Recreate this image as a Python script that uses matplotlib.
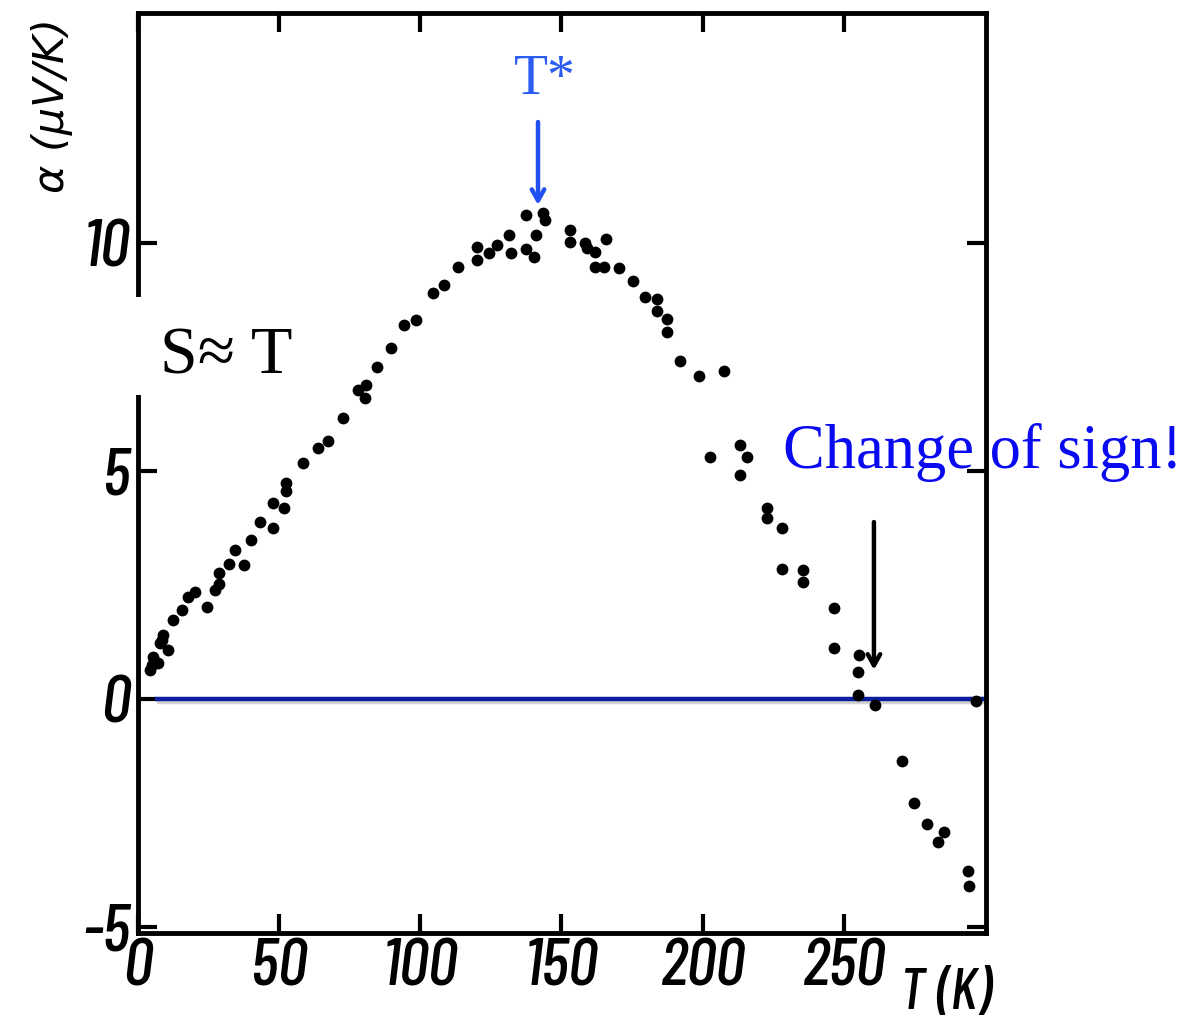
import matplotlib
matplotlib.use("Agg")
import matplotlib.pyplot as plt
import matplotlib.patheffects as pe
from matplotlib.patches import Rectangle

# Thermopower alpha (uV/K) versus temperature T (K)
temperature = [4.3, 5.0, 5.4, 7.2, 7.8, 8.5, 9.0, 10.7, 12.5, 15.5, 17.8, 20.2, 24.6,
               27.3, 28.8, 28.8, 32.3, 34.4, 37.5, 39.9, 43.2, 47.7, 47.9, 51.7,
               52.4, 52.4, 58.3, 63.9, 67.2, 72.7, 77.8, 80.4, 80.8, 84.5, 89.5,
               94.2, 98.4, 104.6, 108.4, 113.2, 120.0, 120.0, 124.3, 127.0, 131.4,
               132.1, 137.4, 137.4, 140.3, 140.9, 143.6, 144.2, 153.0, 153.0, 158.3,
               158.9, 161.9, 165.8, 161.9, 165.1, 170.5, 175.2, 179.6, 183.7, 183.7,
               187.3, 187.3, 192.0, 198.8, 207.6, 202.5, 213.2, 215.6, 213.2, 222.9,
               222.9, 228.2, 228.3, 235.5, 235.5, 246.7, 246.7, 255.5, 255.2, 255.2,
               261.1, 270.5, 274.9, 279.4, 285.5, 283.5, 294.1, 294.5, 297.0]
alpha = [0.64, 0.75, 0.93, 0.78, 1.22, 1.30, 1.40, 1.07, 1.73, 1.95, 2.24, 2.35, 2.01,
         2.39, 2.53, 2.76, 2.96, 3.27, 2.94, 3.49, 3.89, 3.76, 4.29, 4.18,
         4.57, 4.74, 5.18, 5.50, 5.66, 6.15, 6.78, 6.59, 6.89, 7.27, 7.69,
         8.20, 8.31, 8.90, 9.08, 9.47, 9.63, 9.92, 9.77, 9.96, 10.18,
         9.77, 10.61, 9.87, 9.69, 10.18, 10.65, 10.50, 10.29, 10.01, 9.99,
         9.88, 9.79, 10.08, 9.47, 9.47, 9.44, 9.17, 8.81, 8.77, 8.51,
         8.33, 8.05, 7.40, 7.08, 7.19, 5.30, 5.57, 5.30, 4.92, 4.18,
         3.96, 3.76, 2.84, 2.83, 2.57, 1.99, 1.11, 0.96, 0.60, 0.09,
         -0.13, -1.35, -2.29, -2.73, -2.92, -3.13, -3.77, -4.10, -0.05]

x_ticks = [0, 50, 100, 150, 200, 250]
y_ticks = [-5, 0, 5, 10]

T_STAR = 141.7          # temperature of the maximum
T_SIGN = 260.7          # temperature where alpha crosses zero

W, H = 1194, 1023
fig = plt.figure(figsize=(W / 100, H / 100), dpi=100)
ax = fig.add_axes([138 / W, (H - 933) / H, (986 - 138) / W, (933 - 13) / H])

ax.plot(temperature, alpha, linestyle="none", marker="o", markersize=8.5,
        color="black", markeredgewidth=0, zorder=3)

# zero reference line
ax.plot([6, 300.5], [0, 0], color="#0a1f9e", lw=3.2, solid_capstyle="butt",
        clip_on=False, zorder=2,
        path_effects=[pe.SimpleLineShadow(offset=(1.5, -2.5), shadow_color="gray", alpha=0.35),
                      pe.Normal()])

ax.set_xlim(0, 300.4)
ax.set_ylim(-5.13, 15.04)

hand = dict(family=["Barlow Condensed", "DejaVu Sans"], style="italic", weight="medium")
ax.set_xticks(x_ticks)
ax.set_yticks(y_ticks)
ax.set_xticklabels([str(v) for v in x_ticks], fontsize=48, **hand)
ax.set_yticklabels([str(v) for v in y_ticks], fontsize=48, **hand)
ax.tick_params(direction="in", length=14, width=3, top=True, right=True, pad=4)
ax.tick_params(axis="y", pad=6)
for s in ax.spines.values():
    s.set_linewidth(3.5)

# axis titles
fig.text(900 / W, 1 - 1020 / H, "T (K)", fontsize=42, ha="left", va="bottom", **hand)
fig.text(52 / W, 1 - 18 / H, "\u03b1 (\u03bcV/K)", fontsize=31, rotation=90,
         ha="center", va="top", family="DejaVu Sans", style="italic")

# annotations
ax.text(144.2, 13.57, "T*", color="#2d5cf0", fontsize=40, ha="center", va="center",
        family=["Liberation Serif", "DejaVu Serif"])
ax.annotate("", xy=(T_STAR, 10.83), xytext=(T_STAR, 12.65),
            arrowprops=dict(arrowstyle="->,head_length=0.8,head_width=0.45",
                            color="#2050f0", lw=3.2, shrinkA=0, shrinkB=0))
ax.annotate("", xy=(T_SIGN, 0.64), xytext=(T_SIGN, 3.88),
            arrowprops=dict(arrowstyle="->,head_length=0.8,head_width=0.45",
                            color="black", lw=3.2, shrinkA=0, shrinkB=0))
ax.text(228.5, 5.07, "Change of sign!", color="#0a0af0", fontsize=45, ha="left",
        va="baseline", clip_on=False, family=["Liberation Serif", "DejaVu Serif"],
        zorder=6)

# white label box over the left axis
fig.add_artist(Rectangle((130 / W, 1 - 395 / H), 150 / W, 98 / H,
                         transform=fig.transFigure, facecolor="white",
                         edgecolor="none", zorder=5))
fig.text(160 / W, 1 - 373 / H, "S\u2248 T", fontsize=49, ha="left", va="baseline",
         family=["Liberation Serif", "DejaVu Serif"], zorder=6)

fig.savefig("out.png", dpi=100)
